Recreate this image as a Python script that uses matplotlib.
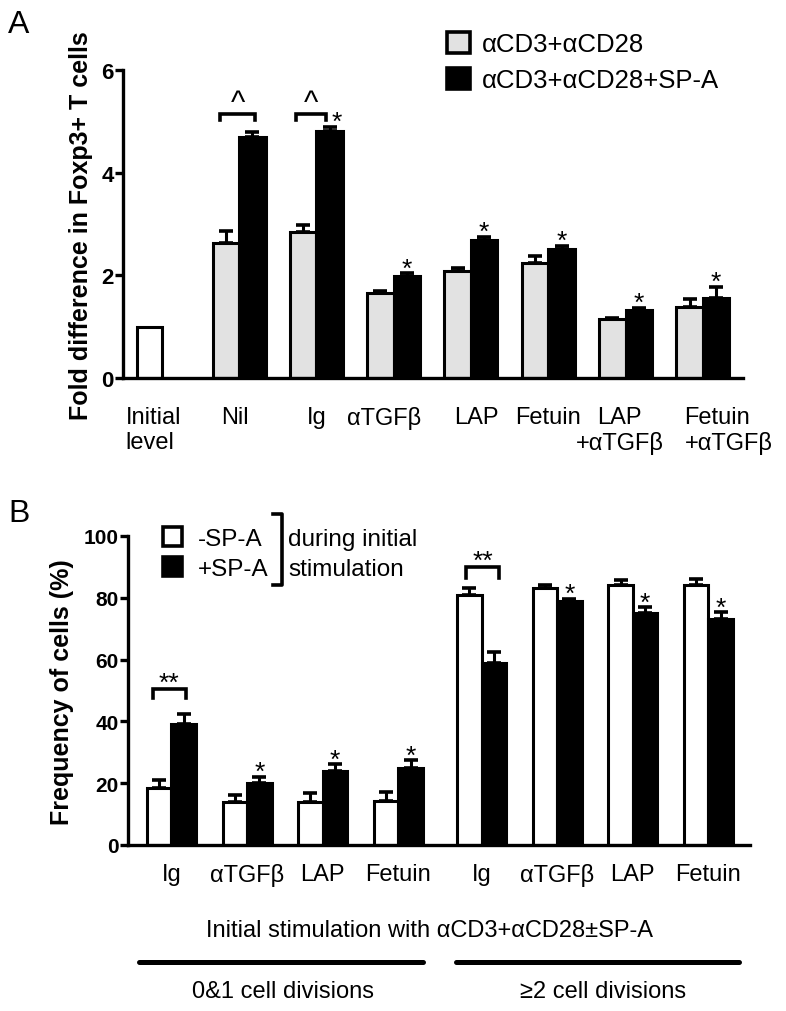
import numpy as np
import matplotlib
matplotlib.use("Agg")
import matplotlib.pyplot as plt
from matplotlib.patches import Rectangle
from matplotlib.lines import Line2D

plt.rcParams['font.family'] = ['Liberation Sans', 'DejaVu Sans']

# ---- panel A data ----
groups_a = ["Nil", "Ig", "αTGFβ", "LAP", "Fetuin", "LAP\n+αTGFβ", "Fetuin\n+αTGFβ"]
initial_level = 1.0
ctrl_a = [2.63, 2.85, 1.65, 2.09, 2.25, 1.15, 1.39]
ctrl_a_err = [0.23, 0.14, 0.05, 0.06, 0.13, 0.02, 0.15]
spa_a = [4.70, 4.81, 1.98, 2.69, 2.51, 1.32, 1.56]
spa_a_err = [0.09, 0.08, 0.06, 0.06, 0.06, 0.04, 0.22]
star_a = [False, True, True, True, True, True, True]

# ---- panel B data ----
groups_b = ["Ig", "αTGFβ", "LAP", "Fetuin", "Ig", "αTGFβ", "LAP", "Fetuin"]
ctrl_b = [18.4, 13.8, 13.8, 14.2, 81.0, 83.3, 84.0, 84.3]
ctrl_b_err = [2.6, 2.3, 3.0, 2.9, 2.3, 1.0, 1.6, 1.9]
spa_b = [39.0, 20.0, 23.9, 24.8, 58.8, 78.9, 75.0, 73.1]
spa_b_err = [3.5, 2.0, 2.2, 2.6, 3.6, 0.7, 1.9, 2.2]
star_b = [False, True, True, True, False, True, True, True]

W, H = 786, 1012
GREY = "#e2e2e2"
LW = 2.2


def px(x, y):
    return x / W, 1 - y / H


fig = plt.figure(figsize=(W / 100, H / 100), dpi=100)


def style_axis(ax, ymax, yticks, size):
    ax.set_ylim(0, ymax)
    ax.set_yticks(yticks)
    for s in ("top", "right"):
        ax.spines[s].set_visible(False)
    ax.spines["left"].set_linewidth(2.4)
    ax.spines["bottom"].set_linewidth(2.4)
    ax.tick_params(axis="y", length=5.5, width=2.4, pad=1, labelsize=size)
    for t in ax.get_yticklabels():
        t.set_fontweight("bold")


def bars(ax, pos, w, ctrl, ctrl_err, spa, spa_err, ctrl_color):
    ax.bar(pos - w / 2, ctrl, w, color=ctrl_color, edgecolor="black", linewidth=LW, zorder=2)
    ax.bar(pos + w / 2, spa, w, color="black", edgecolor="black", linewidth=LW, zorder=2)
    for x, y, e in [(pos - w / 2, ctrl, ctrl_err), (pos + w / 2, spa, spa_err)]:
        ax.errorbar(x, y, yerr=[np.zeros(len(y)), e], fmt="none", ecolor="black",
                    elinewidth=LW, capsize=5, capthick=2.6, zorder=3)


def bracket(ax, x0, x1, ytop, ybot, text, dy, size):
    ax.plot([x0, x0, x1, x1], [ybot, ytop, ytop, ybot], color="black", lw=2.6,
            solid_joinstyle="miter", clip_on=False)
    ax.annotate(text, xy=((x0 + x1) / 2, ytop), xytext=(0, dy), textcoords="offset points",
                ha="center", va="baseline", fontsize=size, annotation_clip=False)


# ================= Panel A =================
axA = fig.add_axes([123 / W, 1 - 379 / H, (743 - 123) / W, (379 - 71) / H])
wa = 0.343
pos_a = np.arange(len(groups_a)) + 1.16
axA.bar([0], [initial_level], wa * 0.95, color="white", edgecolor="black", linewidth=LW, zorder=2)
bars(axA, pos_a, wa, ctrl_a, ctrl_a_err, spa_a, spa_a_err, GREY)
axA.set_xlim(-0.343, 7.68)
style_axis(axA, 6, [0, 2, 4, 6], 16)
# label anchors nudged the way the original lays them out
label_shift_a = [0.05, -0.05, 0, -0.12, 0.07, 0, -0.08, 0.33]
axA.set_xticks(np.concatenate([[0], pos_a]) + np.array(label_shift_a))
axA.set_xticklabels(["Initial\nlevel"] + groups_a, fontsize=17)
axA.tick_params(axis="x", length=0, pad=20)
axA.get_xticklabels()[0].set_multialignment("left")
axA.get_xticklabels()[-1].set_multialignment("left")

bracket(axA, pos_a[0] - 0.25, pos_a[0] + 0.21, 5.15, 5.03, "^", 2, 22)
bracket(axA, pos_a[1] - 0.265, pos_a[1] + 0.12, 5.15, 5.03, "^", 2, 22)
for i, s in enumerate(star_a):
    if not s:
        continue
    if i == 1:
        axA.annotate("*", xy=(pos_a[i] + wa / 2 + 0.09, 5.13), xytext=(0, -10),
                     textcoords="offset points", ha="center", va="baseline", fontsize=19)
    else:
        axA.annotate("*", xy=(pos_a[i] + wa / 2, spa_a[i] + spa_a_err[i]), xytext=(0, -1.5),
                     textcoords="offset points", ha="center", va="baseline", fontsize=19)

# legend A
for i, (lab, fc) in enumerate([("αCD3+αCD28", GREY), ("αCD3+αCD28+SP-A", "black")]):
    yc = 43 + 36 * i
    x0, y0 = px(447, yc + 10.5)
    fig.add_artist(Rectangle((x0, y0), 23 / W, 21 / H, facecolor=fc, edgecolor="black",
                             linewidth=2.6, transform=fig.transFigure))
    fig.text(*px(482, yc + 9), lab, fontsize=18.5, va="baseline", ha="left")

fig.text(*px(8, 33), "A", fontsize=23, va="baseline", ha="left")
fig.text(*px(81, 226), "Fold difference in Foxp3+ T cells", rotation=90, fontsize=18,
         fontweight="bold", ha="center", va="center")

# ================= Panel B =================
axB = fig.add_axes([128 / W, 1 - 846 / H, (750 - 128) / W, (846 - 537) / H])
wb = 0.324
pos_b = np.array([0, 1, 2, 3, 4.1, 5.1, 6.1, 7.1])
bars(axB, pos_b, wb, ctrl_b, ctrl_b_err, spa_b, spa_b_err, "white")
axB.set_xlim(-0.575, 7.65)
style_axis(axB, 100, [0, 20, 40, 60, 80, 100], 15)
axB.set_xticks(pos_b)
axB.set_xticklabels(groups_b, fontsize=17)
axB.tick_params(axis="x", length=0, pad=13)

bracket(axB, pos_b[0] - 0.245, pos_b[0] + 0.19, 50.5, 47.6, "**", -1, 19)
bracket(axB, pos_b[4] - 0.205, pos_b[4] + 0.23, 90.0, 86.4, "**", -1, 19)
for i, s in enumerate(star_b):
    if s:
        axB.annotate("*", xy=(pos_b[i] + wb / 2, spa_b[i] + spa_b_err[i]), xytext=(0, -1.5),
                     textcoords="offset points", ha="center", va="baseline", fontsize=19)

# legend B
for i, (lab, fc) in enumerate([("-SP-A", "white"), ("+SP-A", "black")]):
    yc = 537 + 30 * i
    x0, y0 = px(163, yc + 9.5)
    fig.add_artist(Rectangle((x0, y0), 19 / W, 19 / H, facecolor=fc, edgecolor="black",
                             linewidth=2.6, transform=fig.transFigure))
    fig.text(*px(198, yc + 9), lab, fontsize=17.5, va="baseline", ha="left")
xs, ys = zip(px(273, 515), px(282, 515), px(282, 586), px(273, 586))
fig.add_artist(Line2D(xs, ys, color="black", lw=2.6, transform=fig.transFigure))
fig.text(*px(288, 546), "during initial", fontsize=17.5, va="baseline", ha="left")
fig.text(*px(288, 576), "stimulation", fontsize=17.5, va="baseline", ha="left")

fig.text(*px(8, 522), "B", fontsize=23, va="baseline", ha="left")
fig.text(*px(62, 692), "Frequency of cells (%)", rotation=90, fontsize=18,
         fontweight="bold", ha="center", va="center")

# bottom annotation
fig.text(*px(429, 937), "Initial stimulation with αCD3+αCD28±SP-A", fontsize=17,
         ha="center", va="baseline")
for xa, xb in [(139, 423), (456, 739)]:
    xs, ys = zip(px(xa, 963), px(xb, 963))
    fig.add_artist(Line2D(xs, ys, color="black", lw=3.6, solid_capstyle="round",
                          transform=fig.transFigure))
fig.text(*px(283, 998), "0&1 cell divisions", fontsize=17, ha="center", va="baseline")
fig.text(*px(603, 998), "≥2 cell divisions", fontsize=17, ha="center", va="baseline")

fig.savefig("out.png", dpi=100)
